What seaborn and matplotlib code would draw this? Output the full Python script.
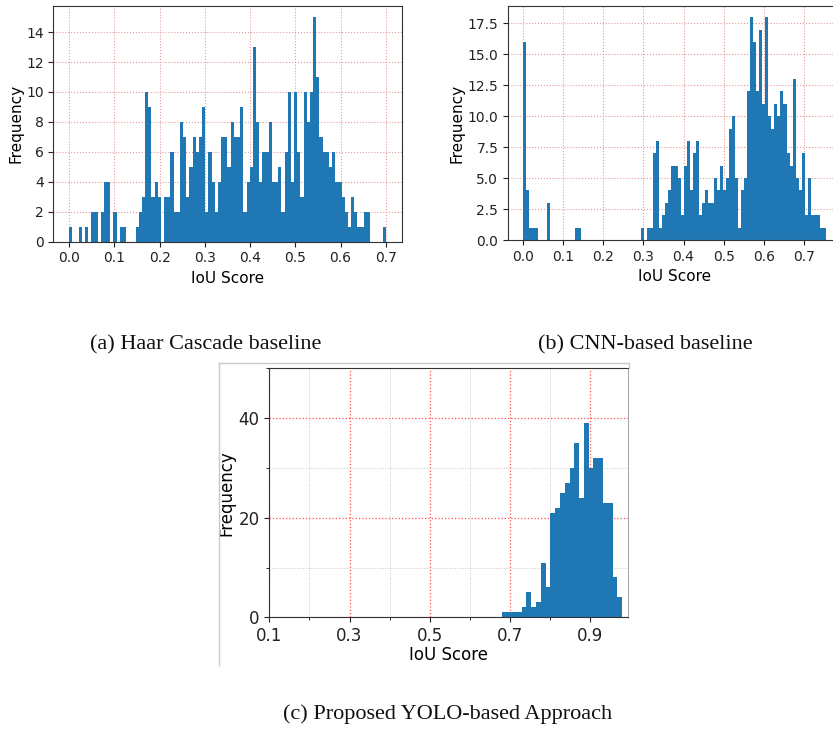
import numpy as np
import pandas as pd
import matplotlib
matplotlib.use("Agg")
import matplotlib.pyplot as plt
from matplotlib.ticker import MultipleLocator, FormatStrFormatter
from matplotlib.lines import Line2D
import seaborn as sns

# ---------------- data ----------------
haar_range = (0.0, 0.70)
haar_counts = [1, 0, 0, 1, 0, 1, 0, 2, 2, 0,
               2, 4, 4, 0, 2, 0, 1, 1, 0, 0,
               0, 1, 2, 3, 10, 9, 3, 4, 3, 0,
               3, 3, 6, 2, 2, 8, 7, 3, 5, 7,
               6, 7, 9, 2, 6, 4, 2, 4, 7, 7,
               5, 8, 7, 7, 9, 2, 4, 5, 13, 8,
               4, 6, 6, 8, 4, 4, 5, 2, 6, 10,
               4, 10, 6, 3, 10, 8, 10, 15, 11, 7,
               6, 6, 5, 6, 4, 4, 3, 2, 1, 3,
               2, 1, 1, 2, 2, 0, 0, 0, 0, 1]

cnn_range = (0.0, 0.755)
cnn_counts = [16, 4, 1, 1, 1, 0, 0, 0, 3, 0,
              0, 0, 0, 0, 0, 0, 0, 1, 1, 0,
              0, 0, 0, 0, 0, 0, 0, 0, 0, 0,
              0, 0, 0, 0, 0, 0, 0, 0, 0, 1,
              0, 1, 1, 7, 8, 1, 2, 3, 4, 6,
              6, 5, 2, 6, 8, 4, 7, 8, 2, 3,
              4, 3, 3, 5, 4, 6, 4, 5, 9, 10,
              5, 1, 4, 5, 12, 18, 16, 12, 17, 11,
              18, 10, 9, 11, 10, 12, 11, 7, 6, 13,
              5, 4, 7, 2, 5, 2, 2, 2, 1, 1]

yolo_range = (0.681, 0.980)
yolo_counts = [1, 1, 1, 1, 2, 5, 2, 3, 11, 6, 21, 22, 25, 27, 30,
               35, 24, 39, 30, 32, 32, 23, 23, 8, 4]

captions = ["(a) Haar Cascade baseline", "(b) CNN-based baseline",
            "(c) Proposed YOLO-based Approach"]
x_label = "IoU Score"
y_label = "Frequency"

yolo_xticks = [0.1, 0.3, 0.5, 0.7, 0.9]
yolo_yticks = [0, 20, 40]

BLUE = "#1f77b4"
W, H = 833, 730

fig = plt.figure(figsize=(W / 100, H / 100), dpi=100)


def px_axes(left, top, right, bottom):
    return fig.add_axes([left / W, 1 - bottom / H, (right - left) / W, (bottom - top) / H])


def draw_hist(ax, rng, counts):
    n = len(counts)
    width = (rng[1] - rng[0]) / n
    centers = [rng[0] + width * (i + 0.5) for i in range(n)]
    df = pd.DataFrame({"iou": centers, "count": counts})
    sns.histplot(data=df, x="iou", weights="count", bins=n, binrange=rng, ax=ax,
                 color=BLUE, alpha=1, linewidth=0)


# ---------------- panel (a) ----------------
ax_a = px_axes(53.3, 6, 401.7, 241.5)
draw_hist(ax_a, haar_range, haar_counts)
ax_a.yaxis.set_major_locator(MultipleLocator(2))
ax_a.xaxis.set_major_locator(MultipleLocator(0.1))

# ---------------- panel (b) ----------------
ax_b = px_axes(508, 6, 841, 240)
draw_hist(ax_b, cnn_range, cnn_counts)
ax_b.yaxis.set_major_locator(MultipleLocator(2.5))
ax_b.xaxis.set_major_locator(MultipleLocator(0.1))
ax_b.yaxis.set_major_formatter(FormatStrFormatter("%.1f"))

for ax in (ax_a, ax_b):
    ax.set_axisbelow(True)
    ax.grid(True, color="#e08080", linestyle=":", linewidth=0.8, alpha=0.8)
    ax.tick_params(labelsize=10, colors="#222222")
    ax.set_xlabel(x_label, fontsize=11)
    ax.set_ylabel(y_label, fontsize=11, labelpad=2)
    for s in ax.spines.values():
        s.set_color("#333333")

ax_a.set_xlim(haar_range[0] - 0.035, haar_range[1] + 0.035)

# ---------------- panel (c) ----------------
ax_c = px_axes(269.3, 368.3, 628.3, 617.3)
draw_hist(ax_c, yolo_range, yolo_counts)
ax_c.set_xlim(0.1, 0.995)
ax_c.set_ylim(0, 50)
ax_c.set_xticks(yolo_xticks)
ax_c.set_yticks(yolo_yticks)
ax_c.xaxis.set_minor_locator(MultipleLocator(0.1))
ax_c.yaxis.set_minor_locator(MultipleLocator(10))
ax_c.set_axisbelow(True)
ax_c.grid(True, which="major", color="red", linestyle=":", linewidth=0.9, alpha=0.7)
ax_c.grid(True, which="minor", color="#bbbbbb", linestyle=":", linewidth=0.7, alpha=0.8)
ax_c.tick_params(labelsize=12, colors="#222222")
ax_c.tick_params(which="minor", length=2)
ax_c.set_xlabel(x_label, fontsize=12, labelpad=1)
ax_c.set_ylabel(y_label, fontsize=12, labelpad=2)
for name, s in ax_c.spines.items():
    s.set_color("#333333")
ax_c.spines["right"].set_color("#aaaaaa")

# light frame around panel (c)
frame_kw = dict(color="#c8c8c8", linewidth=1.0, transform=fig.transFigure)
fig.add_artist(Line2D([219.3 / W, 219.3 / W], [1 - 362.7 / H, 1 - 665 / H], **frame_kw))
fig.add_artist(Line2D([219.3 / W, 629 / W], [1 - 362.7 / H, 1 - 362.7 / H], **frame_kw))
fig.add_artist(Line2D([628.5 / W, 628.5 / W], [1 - 362.7 / H, 1 - 368.3 / H], **frame_kw))

# ---------------- captions ----------------
cap_kw = dict(fontsize=16, family=["Liberation Serif", "DejaVu Serif"], va="center", ha="left",
              color="#111111")
fig.text(90 / W, 1 - 345 / H, captions[0], **cap_kw)
fig.text(538 / W, 1 - 345 / H, captions[1], **cap_kw)
fig.text(283 / W, 1 - 714 / H, captions[2], **cap_kw)

fig.savefig("out.png", dpi=100)
